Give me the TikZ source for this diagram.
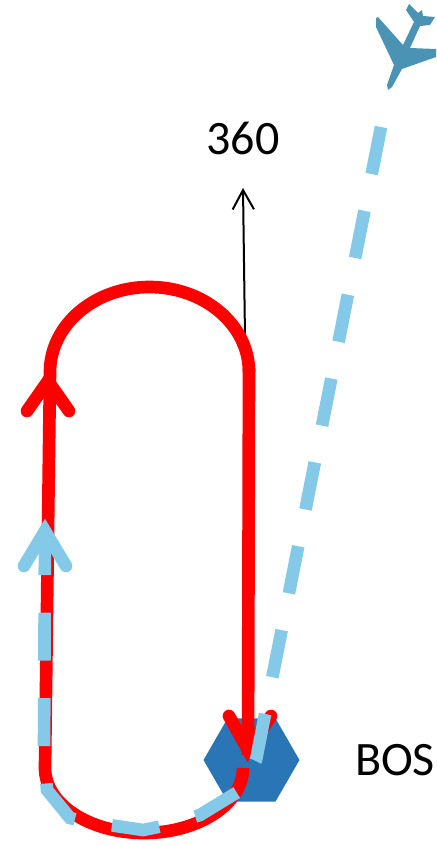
\documentclass[tikz,border=0pt]{standalone}
\usepackage{fontspec}
\setmainfont{Carlito}
\usetikzlibrary{arrows.meta,shapes.geometric}

\definecolor{trackred}{HTML}{FF0000}
\definecolor{tracksky}{HTML}{85C9E8}
\definecolor{airport}{HTML}{2A75B6}
\definecolor{planeblue}{HTML}{4B93B5}

\begin{document}
\begin{tikzpicture}[
    x=0.75pt,
    y=-0.75pt,
    label/.style={font=\fontsize{36}{40}\selectfont, inner sep=0pt},
    redline/.style={draw=trackred, line width=9.5pt},
    redhead/.style={redline, line cap=round, miter limit=10},
    skyline/.style={draw=tracksky, line width=9.5pt, dash pattern=on 36pt off 28.1pt},
    skyhead/.style={draw=tracksky, line width=9.5pt, line cap=round, miter limit=10},
    heading/.style={
        -{Straight Barb[length=14.5pt,width=16pt,line width=1.5pt]},
        line width=1.5pt
    }
]

\useasboundingbox (0,0) rectangle (436,846);

%% ===== LABELS =====
\node[label] (bearing) at (243,138) {360};
\node[label] (bos) at (395,760) {BOS};

%% ===== AIRPORT =====
\node[regular polygon, regular polygon sides=6, fill=airport, inner sep=0pt,
      minimum size=72pt] (airporthex) at (251.5,760) {};

%% ===== RED PATTERN =====
\coordinate (lefttop) at (50,372);
\coordinate (righttop) at (249,368);
\coordinate (rightlow) at (248,755);
\coordinate (leftlow) at (45,768);
\coordinate (baseend) at (243,768);

\draw[heading] (245,337) -- (243,188);

\draw[redline] (leftlow) -- (lefttop);
\draw[redline] (lefttop) arc[start angle=180, end angle=360, x radius=99.5, y radius=85];
\draw[redline] (righttop) -- (rightlow);
\draw[redline] (leftlow) arc[start angle=180, end angle=0, x radius=99, y radius=65];

\draw[redhead] (27,411) -- (48,381) -- (69,411);
\draw[redhead] (229,716) -- (248,750) -- (271,716);

%% ===== INBOUND TRACK =====
\coordinate (trackstart) at (381,127);
\coordinate (trackend) at (45,530);

\draw[skyline] (trackstart) -- (256,760) -- (241,790) -- (200,815) -- (163,826)
    -- (143,830) -- (116,826) -- (78,820) -- (70,818) -- (47,790) -- (44,753)
    -- (trackend);
\draw[skyhead] (24,566) -- (45,531) -- (66,566);

%% ===== AIRCRAFT =====
\fill[planeblue] (376,18) -- (378,17) -- (403,45) -- (414,22) -- (406,10)
    -- (409,4) -- (418,13) -- (422,10) -- (423,16) -- (435,17) -- (430,25)
    -- (420,26) -- (410,48) -- (436,49) -- (436,57) -- (402,69) -- (392,87)
    -- (388,90) -- (387,85) -- (394,65) -- (376,27) -- cycle;

\end{tikzpicture}
\end{document}
